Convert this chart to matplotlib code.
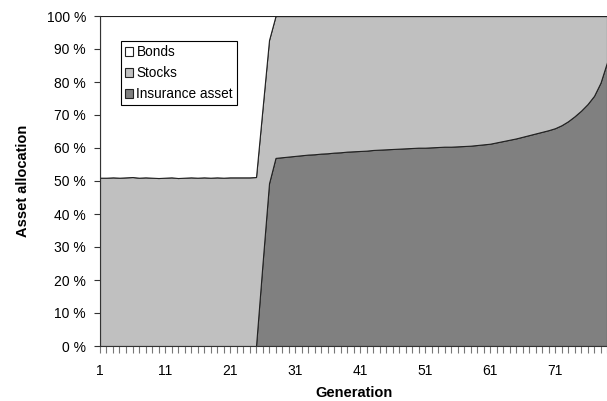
import matplotlib.pyplot as plt
from matplotlib.ticker import FuncFormatter
import numpy as np

plt.rcParams['font.family'] = ['Liberation Sans', 'DejaVu Sans']

# generations 1..79
gen = list(range(1, 80))

# total share in risky assets (stocks + insurance), percent
total_early = [51.0, 51.0, 51.1, 51.0, 51.1, 51.2, 51.0, 51.1, 51.0, 50.9,
               51.0, 51.1, 50.9, 51.0, 51.1, 51.0, 51.1, 51.0, 51.1, 51.0,
               51.1, 51.1, 51.1, 51.1, 51.2]
total_jump = [72.0, 92.7]

# insurance asset share, percent
ins_early = [0.0] * 25
ins_jump = [25.0, 49.3]
ins_late = [57.0, 57.2, 57.4, 57.6, 57.8, 58.0, 58.1, 58.3, 58.4, 58.6,
            58.7, 58.9, 59.0, 59.1, 59.2, 59.4, 59.5, 59.6, 59.7, 59.8,
            59.9, 60.0, 60.1, 60.1, 60.2, 60.3, 60.4, 60.4, 60.5, 60.6,
            60.7, 60.9, 61.1, 61.3, 61.7, 62.1, 62.5, 62.9, 63.4, 63.9,
            64.4, 64.9, 65.4, 66.0, 66.9, 68.1, 69.6, 71.3, 73.3, 75.8,
            79.8, 86.0]

total = np.array(total_early + total_jump + [100.0] * len(ins_late))
insurance = np.array(ins_early + ins_jump + ins_late)
stocks = total - insurance
bonds = 100 - total

fig = plt.figure(figsize=(6.07, 4.01), dpi=100)
ax = fig.add_axes([100 / 607, 1 - 346 / 401, 1 - 100 / 607, 330 / 401])

polys = ax.stackplot(gen, insurance, stocks, bonds,
                     colors=['#808080', '#c0c0c0', '#ffffff'],
                     edgecolor='#222222', linewidth=0.8)

ax.set_xlim(1, 79)
ax.set_ylim(0, 100)
ax.set_yticks(range(0, 101, 10))
ax.yaxis.set_major_formatter(FuncFormatter(lambda v, p: '%d %%' % v))
ax.set_xticks(range(1, 80, 10))
ax.set_xticks(gen, minor=True)

for s in ['top', 'right']:
    ax.spines[s].set_visible(False)
for s in ['left', 'bottom']:
    ax.spines[s].set_linewidth(0.8)
    ax.spines[s].set_color('#333333')

ax.tick_params(axis='y', length=4, width=0.8, pad=6, labelsize=10, color='#333333')
ax.tick_params(axis='x', which='both', length=5, width=0.8, pad=8, labelsize=10, color='#777777')

ax.set_xlabel('Generation', fontsize=10.5, fontweight='bold', labelpad=6)
ax.set_ylabel('Asset allocation', fontsize=10.5, fontweight='bold', labelpad=12)

leg = ax.legend([polys[2], polys[1], polys[0]], ['Bonds', 'Stocks', 'Insurance asset'],
                loc='upper left', bbox_to_anchor=(0.041, 0.924), fontsize=9.8,
                frameon=True, fancybox=False, edgecolor='black', framealpha=1,
                handlelength=0.6, handleheight=0.6, handletextpad=0.25,
                labelspacing=0.52, borderpad=0.3, borderaxespad=0)
leg.get_frame().set_linewidth(0.8)

fig.savefig('out.png', dpi=100)
